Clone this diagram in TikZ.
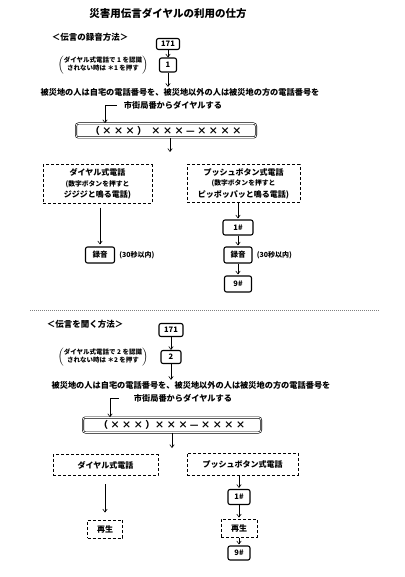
\documentclass[tikz,border=0pt]{standalone}
\usepackage{fontspec}
\setmainfont{Noto Sans CJK JP}
\usetikzlibrary{positioning, arrows.meta}

\newcommand{\xsp}{\hspace{2.2pt}}

\begin{document}
\begin{tikzpicture}[
    x=1pt, y=-1pt,
    every node/.style={
        inner sep=0pt,
        align=center,
        font=\fontsize{8.2}{10}\selectfont
    },
    arr/.style={draw, -{Straight Barb[length=3pt, width=4.5pt]}, line width=0.6pt},
    keybox/.style={draw, line width=1.1pt, rounded corners=2pt, font=\fontsize{7.5}{8}\selectfont\bfseries},
    numbox/.style={draw, double, double distance=0.8pt, line width=0.6pt, rounded corners=2.5pt, font=\fontsize{9.5}{10}\selectfont\bfseries},
    kindbox/.style={draw, line width=1pt, dash pattern=on 3pt off 2pt, font=\fontsize{8}{9}\selectfont\bfseries},
    heading/.style={font=\fontsize{8.5}{9}\selectfont\bfseries},
    guide/.style={font=\fontsize{8.2}{10}\selectfont\bfseries},
    note/.style={font=\fontsize{6.5}{7.5}\selectfont\bfseries},
    timenote/.style={font=\fontsize{7}{8}\selectfont\bfseries}
]
\useasboundingbox (0,0) rectangle (404,577);

% Title
\node[font=\fontsize{10.5}{12}\selectfont\bfseries] (title) at (168,13) {災害用伝言ダイヤルの利用の仕方};

% Recording
\node[heading] (headA) at (90,37) {＜伝言の録音方法＞};
\node[keybox, minimum width=23pt, minimum height=11pt] (callA) at (168,44) {171};
\node[keybox, minimum width=17pt, minimum height=14pt] (keyA) at (168,65) {1};
\node[note] (hintA) at (103,65) {$\left(\vcenter{\hbox{\begin{tabular}{@{}c@{}}ダイヤル式電話で 1 を認識\\されない時は ＊1 を押す\end{tabular}}}\right)$};
\node[guide] (lineA) at (180,92) {被災地の人は自宅の電話番号を、被災地以外の人は被災地の方の電話番号を};
\node[guide] (areaA) at (173,105) {市街局番からダイヤルする};
\node[numbox, minimum width=180pt, minimum height=14pt] (numA) at (166,130.5) {（\xsp×\xsp×\xsp×\xsp）\xsp\xsp×\xsp×\xsp×\xsp—\xsp×\xsp×\xsp×\xsp×};
\coordinate (splitA) at (170,152);

\node[kindbox, minimum width=109pt, minimum height=38pt] (dialA) at (97.5,184) {ダイヤル式電話\\[1.5pt]\fontsize{6.8}{10.5}\selectfont (数字ボタンを押すと\\[2.5pt]ジジジと鳴る電話)};
\node[kindbox, minimum width=113pt, minimum height=37pt] (pushA) at (243.5,183.5) {プッシュボタン式電話\\[1.5pt]\fontsize{6.8}{10.5}\selectfont (数字ボタンを押すと\\[2.5pt]ピッポッパッと鳴る電話)};

\node[keybox, minimum width=29pt, minimum height=16pt] (recA) at (100,255) {録音};
\node[timenote, right=4pt of recA] (timeA) {(30秒以内)};
\node[keybox, minimum width=30pt, minimum height=15pt] (startA) at (238,227.5) {1\#};
\node[keybox, minimum width=28pt, minimum height=16pt] (precA) at (238,255) {録音};
\node[timenote, right=4pt of precA] (ptimeA) {(30秒以内)};
\node[keybox, minimum width=27pt, minimum height=16pt] (endA) at (238,284) {9\#};

\draw[arr] (callA) -- (keyA);
\draw[arr] (keyA) -- ([yshift=1pt]keyA |- lineA.north);
\draw[arr] ([xshift=-7pt]areaA.west) -| ([xshift=-61pt]numA.north);
\draw[arr] (numA.south -| splitA) -- (splitA);
\draw[arr, shorten <=4pt, shorten >=2pt] (recA.north |- dialA.south) -- (recA.north);
\draw[arr, shorten >=1pt] (startA.north |- pushA.south) -- (startA.north);
\draw[arr, shorten >=1pt] (startA) -- (precA);
\draw[arr, shorten >=1pt] (precA) -- (endA);

% Separator
\draw[gray, line width=0.5pt, dash pattern=on 1pt off 1pt] (30,310) -- (380,310);

% Listening
\node[heading] (headB) at (85,324) {＜伝言を聞く方法＞};
\node[keybox, minimum width=24pt, minimum height=13pt] (callB) at (171,330) {171};
\node[keybox, minimum width=20pt, minimum height=13pt] (keyB) at (171,357) {2};
\node[note] (hintB) at (103,357) {$\left(\vcenter{\hbox{\begin{tabular}{@{}c@{}}ダイヤル式電話で 2 を認識\\されない時は ＊2 を押す\end{tabular}}}\right)$};
\node[guide] (lineB) at (191,385) {被災地の人は自宅の電話番号を、被災地以外の人は被災地の方の電話番号を};
\node[guide] (areaB) at (183,398) {市街局番からダイヤルする};
\node[numbox, minimum width=178pt, minimum height=15pt] (numB) at (172,425) {（\xsp×\xsp×\xsp×\xsp）×\xsp×\xsp×\xsp—\xsp×\xsp×\xsp×\xsp×};
\coordinate (splitB) at (172,448);

\node[kindbox, minimum width=105pt, minimum height=21pt] (dialB) at (105.5,465) {ダイヤル式電話};
\node[kindbox, minimum width=111pt, minimum height=22pt] (pushB) at (242.5,464) {プッシュボタン式電話};

\node[kindbox, minimum width=35pt, minimum height=18pt] (playB) at (105,529) {再生};
\node[keybox, minimum width=22pt, minimum height=15pt] (startB) at (239,497) {1\#};
\node[kindbox, minimum width=36pt, minimum height=18pt] (pplayB) at (239,528) {再生};
\node[keybox, minimum width=22pt, minimum height=14pt] (endB) at (239,553) {9\#};

\draw[arr] (callB) -- (keyB);
\draw[arr] (keyB) -- ([yshift=1pt]keyB |- lineB.north);
\draw[arr] ([xshift=-15pt]areaB.west) -| ([xshift=-62pt]numB.north);
\draw[arr] (numB.south -| splitB) -- (splitB);
\draw[arr, shorten <=8pt, shorten >=7pt] (playB.north |- dialB.south) -- (playB.north);
\draw[arr, shorten >=1pt] (startB.north |- pushB.south) -- (startB.north);
\draw[arr, shorten >=1pt] (startB) -- (pplayB);
\draw[arr, shorten >=1pt] (pplayB) -- (endB);
\end{tikzpicture}
\end{document}
